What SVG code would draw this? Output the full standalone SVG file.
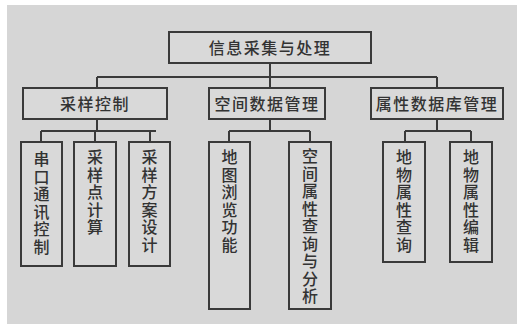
<svg xmlns="http://www.w3.org/2000/svg" width="517" height="324" viewBox="0 0 517 324">
<style>
.bx{fill:#d9d9d9;stroke:#3a3a3a;stroke-width:2}
.t{font-family:"Noto Sans CJK SC","Noto Sans",sans-serif;font-size:16px;letter-spacing:1.5px;fill:#333;text-anchor:middle;font-weight:500}
.v{font-family:"Noto Sans CJK SC","Noto Sans",sans-serif;font-size:16px;letter-spacing:1.5px;fill:#333;writing-mode:vertical-rl;text-orientation:upright;font-weight:500}
.c{fill:none;stroke:#3a3a3a;stroke-width:2}
</style>
<rect x="0" y="0" width="517" height="324" fill="#ffffff"/>
<rect x="7" y="5" width="510" height="319" fill="#d6d6d6"/>
<g id="connectors">
<path class="c" d="M270 63V77M97 77H437M97 77V88M270 77V88M437 77V88"/>
<path class="c" d="M97 119V131M41 131H156M41 131V142M95 131V142M150 131V142"/>
<path class="c" d="M270 119V131M229 131H310M229 131V142M310 131V142"/>
<path class="c" d="M437 119V131M405 131H471M405 131V142M471 131V142"/>
</g>
<g id="root"><rect class="bx" x="169" y="32" width="202" height="31"/><text class="t" x="270" y="53.5">信息采集与处理</text></g>
<g id="n1"><rect class="bx" x="23" y="88" width="144" height="31"/><text class="t" x="95" y="109.5">采样控制</text></g>
<g id="n2"><rect class="bx" x="209" y="88" width="116" height="31"/><text class="t" x="267" y="109.5">空间数据管理</text></g>
<g id="n3"><rect class="bx" x="371" y="88" width="132" height="31"/><text class="t" x="437" y="109.5">属性数据库管理</text></g>
<g id="l1"><rect class="bx" x="21" y="142" width="41" height="124"/><text class="v" x="41.5" y="151">串口通讯控制</text></g>
<g id="l2"><rect class="bx" x="74" y="142" width="42" height="124"/><text class="v" x="95" y="149">采样点计算</text></g>
<g id="l3"><rect class="bx" x="129" y="142" width="41" height="124"/><text class="v" x="149.5" y="149">采样方案设计</text></g>
<g id="l4"><rect class="bx" x="209" y="142" width="41" height="167"/><text class="v" x="229.5" y="149">地图浏览功能</text></g>
<g id="l5"><rect class="bx" x="289" y="142" width="42" height="167"/><text class="v" x="310" y="148">空间属性查询与分析</text></g>
<g id="l6"><rect class="bx" x="383" y="142" width="42" height="120"/><text class="v" x="404" y="149">地物属性查询</text></g>
<g id="l7"><rect class="bx" x="450" y="142" width="42" height="120"/><text class="v" x="471" y="149">地物属性编辑</text></g>
</svg>
